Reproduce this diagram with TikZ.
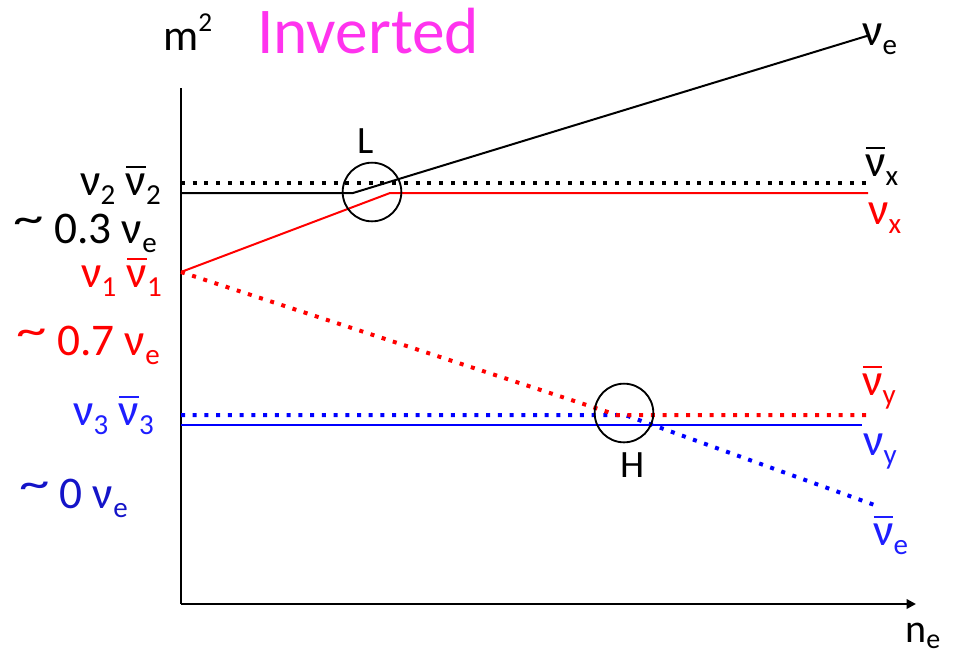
\documentclass[tikz,border=0pt]{standalone}
\usepackage{fontspec}
\usepackage{graphicx}
\setmainfont{Carlito}
\usetikzlibrary{arrows.meta}
\definecolor{invcol}{RGB}{255,51,238}
\definecolor{lblue}{RGB}{30,30,255}
\definecolor{dblue}{RGB}{20,20,200}
\newcommand\sbs[1]{\raisebox{-0.2em}{\scalebox{0.64}{#1}}}
\newcommand\nubar{\leavevmode\setbox0\hbox{ν}\rlap{\hbox to \wd0{\hss\raisebox{0.6em}{\rule{0.95\wd0}{0.05em}}\hss}}\box0}
\newcommand\tld{\raisebox{0.2em}{\scalebox{1.35}[1]{\textasciitilde}}\ }
\begin{document}
\begin{tikzpicture}[x=0.75pt,y=-0.75pt,
  solidln/.style={line width=1.5pt},
  dotln/.style={line width=3pt,dash pattern=on 3pt off 5.8pt},
  axisln/.style={line width=2.2pt},
  lbl/.style={inner sep=0pt,font=\fontsize{34}{40}\selectfont},
  rlbl/.style={inner sep=0pt,font=\fontsize{34}{40}\selectfont,anchor=base west},
  ring/.style={circle,draw,line width=1.4pt,inner sep=0pt,minimum size=44pt}]
\useasboundingbox (0,0) rectangle (958,658);
% axes
\coordinate (O) at (181,604);
\coordinate (Ytop) at (181,88);
\coordinate (Xend) at (916,604);
\draw[axisln] (Ytop) -- (O);
\draw[axisln,-{Triangle[length=7pt,width=7pt]}] (O) -- (Xend);
% coordinates
\coordinate (b0) at (181,193);
\coordinate (b1) at (353,193);
\coordinate (b2) at (870,35);
\coordinate (d0) at (181,183);
\coordinate (d1) at (870,183);
\coordinate (r0) at (181,272);
\coordinate (r1) at (390,193);
\coordinate (r2) at (868,193);
\coordinate (rd1) at (617,415);
\coordinate (rd2) at (872,415);
\coordinate (bd0) at (181,415);
\coordinate (bd1) at (625,415);
\coordinate (bd2) at (880,507);
\coordinate (bs0) at (181,425);
\coordinate (bs1) at (862,425);
% lines
\draw[solidln,black] (b0) -- (b1) -- (b2);
\draw[solidln,red] (r0) -- (r1) -- (r2);
\draw[dotln,black] (d0) -- (d1);
\draw[solidln,blue] (bs0) -- (bs1);
\draw[dotln,blue] (bd0) -- (bd1) -- (bd2);
\draw[dotln,red] (r0) -- (rd1) -- (rd2);
% circles
\node[ring] (Lc) at (372,192) {};
\node[ring] (Hc) at (624,413) {};
\node[inner sep=0pt,anchor=base,font=\fontsize{29}{32}\selectfont] (Ltxt) at (366,153) {L};
\node[inner sep=0pt,anchor=base,font=\fontsize{29}{32}\selectfont] (Htxt) at (633,477) {H};
% titles
\node[inner sep=0pt,anchor=base west,font=\fontsize{33}{36}\selectfont] (m2) at (163,50) {m\raisebox{0.42em}{\scalebox{0.62}{2}}};
\node[inner sep=0pt,anchor=base west,font=\fontsize{49}{54}\selectfont,text=invcol] (inv) at (257,53) {Inverted};
% left labels
\node[lbl,anchor=base east] (l2) at (161,195) {ν\sbs{2} \nubar\sbs{2}};
\node[lbl,anchor=base east] (l03) at (157,243) {\tld 0.3 ν\sbs{e}};
\node[lbl,anchor=base east,text=red] (l1) at (162,287) {ν\sbs{1} \nubar\sbs{1}};
\node[lbl,anchor=base east,text=red] (l07) at (160,355) {\tld 0.7 ν\sbs{e}};
\node[lbl,anchor=base east,text=lblue] (l3) at (154,425) {ν\sbs{3} \nubar\sbs{3}};
\node[lbl,anchor=base east,text=dblue] (l0) at (128,508) {\tld 0 ν\sbs{e}};
% right labels
\node[rlbl] (re) at (862,45) {ν\sbs{e}};
\node[rlbl] (rxb) at (865,176) {\nubar\sbs{x}};
\node[rlbl,text=red] (rx) at (868,224) {ν\sbs{x}};
\node[rlbl,text=red] (ryb) at (862,395) {\nubar\sbs{y}};
\node[rlbl,text=lblue] (ry) at (863,455) {ν\sbs{y}};
\node[rlbl,text=lblue] (reb) at (873,545) {\nubar\sbs{e}};
\node[inner sep=0pt,anchor=base west,font=\fontsize{30}{36}\selectfont] (ne) at (905,642) {n\raisebox{-0.15em}{\scalebox{0.7}{e}}};
\end{tikzpicture}
\end{document}
